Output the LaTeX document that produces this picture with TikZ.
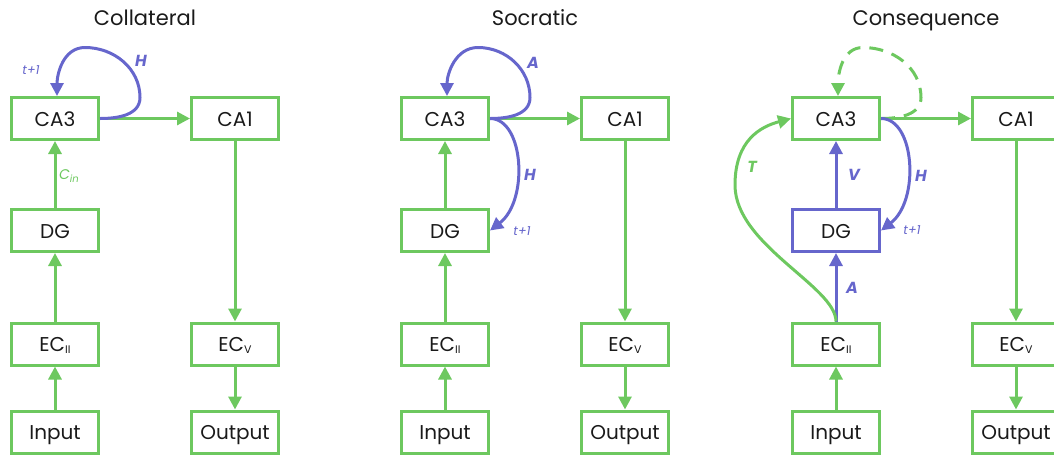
\documentclass[tikz,border=0pt]{standalone}
\usepackage{fontspec}
\setmainfont{Poppins}
\usetikzlibrary{arrows.meta,calc}
\definecolor{gr}{RGB}{109,200,95}
\definecolor{bl}{RGB}{102,102,204}
\definecolor{tx}{RGB}{26,26,26}
\newcommand\ecsub[1]{\raisebox{-1.5pt}{\fontsize{11}{11}\selectfont #1}}
\newcommand\cin{{\itshape C}\raisebox{-2.5pt}{\fontsize{10}{10}\selectfont\itshape in}}
\begin{document}
\begin{tikzpicture}[x=1pt,y=1pt,
 box/.style={draw=gr, line width=3pt, minimum width=87pt, minimum height=42pt, inner sep=0pt, text=tx, font=\fontsize{20}{22}\selectfont, text height=15pt, text depth=0pt},
 bbox/.style={box, draw=bl},
 garr/.style={gr, line width=3pt, -{Triangle[length=13pt,width=13pt]}},
 barr/.style={bl, line width=3pt, -{Triangle[length=13pt,width=13pt]}},
 title/.style={text=tx, font=\fontsize{21}{24}\selectfont, anchor=base},
 lab/.style={font=\fontsize{16}{17}\selectfont\bfseries\itshape},
 tlab/.style={font=\fontsize{12.5}{13}\selectfont\itshape, text=bl},
]
\useasboundingbox (0,0) rectangle (1054,-456);

% ---------- Panel 1: Collateral ----------
\node[title] (t1) at (145,-25) {Collateral};
\node[box] (a-ca3) at (55,-118.5) {CA3};
\node[box] (a-ca1) at (235,-118.5) {CA1};
\node[box] (a-dg) at (55,-230.5) {DG};
\node[box] (a-ec2) at (55,-344) {EC\ecsub{II}};
\node[box] (a-in) at (55,-432) {Input};
\node[box] (a-ec5) at (235,-344) {EC\ecsub{V}};
\node[box] (a-out) at (235,-432) {Output};
\draw[garr] (a-ca3) -- (a-ca1);
\draw[garr] (a-dg) -- (a-ca3);
\draw[garr] (a-ec2) -- (a-dg);
\draw[garr] (a-in) -- (a-ec2);
\draw[garr] (a-ca1) -- (a-ec5);
\draw[garr] (a-ec5) -- (a-out);
\draw[barr] (a-ca3.east) to[out=0,in=-90] ++(40,21) to[out=90,in=0] ++(-55,50) to[out=180,in=90] ($(a-ca3.north)+(2,0)$);
\node[lab, text=bl] (a-H) at (141,-61) {H};
\node[tlab] (a-t) at (31,-70) {t+1};
\node[text=gr, font=\fontsize{14}{15}\selectfont] (a-cin) at (69,-176) {\cin};

% ---------- Panel 2: Socratic ----------
\node[title] (t2) at (535,-25) {Socratic};
\node[box] (b-ca3) at (445,-118.5) {CA3};
\node[box] (b-ca1) at (625,-118.5) {CA1};
\node[box] (b-dg) at (445,-230.5) {DG};
\node[box] (b-ec2) at (445,-344) {EC\ecsub{II}};
\node[box] (b-in) at (445,-432) {Input};
\node[box] (b-ec5) at (625,-344) {EC\ecsub{V}};
\node[box] (b-out) at (625,-432) {Output};
\draw[garr] (b-ca3) -- (b-ca1);
\draw[garr] (b-dg) -- (b-ca3);
\draw[garr] (b-ec2) -- (b-dg);
\draw[garr] (b-in) -- (b-ec2);
\draw[garr] (b-ca1) -- (b-ec5);
\draw[garr] (b-ec5) -- (b-out);
\draw[barr] (b-ca3.east) to[out=0,in=-90] ++(40,21) to[out=90,in=0] ++(-52,50) to[out=180,in=90] ($(b-ca3.north)+(2,0)$);
\draw[barr] (b-ca3.east) .. controls +(34,0) and +(39,30) .. (b-dg.east);
\node[lab, text=bl] (b-A) at (533,-63) {A};
\node[lab, text=bl] (b-H) at (530,-175) {H};
\node[tlab] (b-t) at (522,-231) {t+1};

% ---------- Panel 3: Consequence ----------
\node[title] (t3) at (926,-25) {Consequence};
\node[box] (c-ca3) at (836,-118.5) {CA3};
\node[box] (c-ca1) at (1016,-118.5) {CA1};
\node[bbox] (c-dg) at (836,-230.5) {DG};
\node[box] (c-ec2) at (836,-344) {EC\ecsub{II}};
\node[box] (c-in) at (836,-432) {Input};
\node[box] (c-ec5) at (1016,-344) {EC\ecsub{V}};
\node[box] (c-out) at (1016,-432) {Output};
\draw[garr] (c-ca3) -- (c-ca1);
\draw[barr] (c-dg) -- (c-ca3);
\draw[barr] (c-ec2) -- (c-dg);
\draw[garr] (c-in) -- (c-ec2);
\draw[garr] (c-ca1) -- (c-ec5);
\draw[garr] (c-ec5) -- (c-out);
\draw[garr, dash pattern=on 14pt off 9pt] (c-ca3.east) to[out=0,in=-90] ++(40,21) to[out=90,in=0] ++(-58,50) to[out=180,in=90] ($(c-ca3.north)+(2,0)$);
\draw[barr] (c-ca3.east) .. controls +(34,0) and +(39,30) .. (c-dg.east);
\draw[garr] (c-ec2.north) .. controls +(0,35) and +(0,-60) .. (735,-185) .. controls +(0,45) and +(-30,-8) .. (c-ca3.west);
\node[lab, text=gr] (c-T) at (752,-167) {T};
\node[lab, text=bl] (c-V) at (854,-175) {V};
\node[lab, text=bl] (c-A) at (852,-288) {A};
\node[lab, text=bl] (c-H) at (921,-176) {H};
\node[tlab] (c-t) at (912,-230) {t+1};
\end{tikzpicture}
\end{document}
